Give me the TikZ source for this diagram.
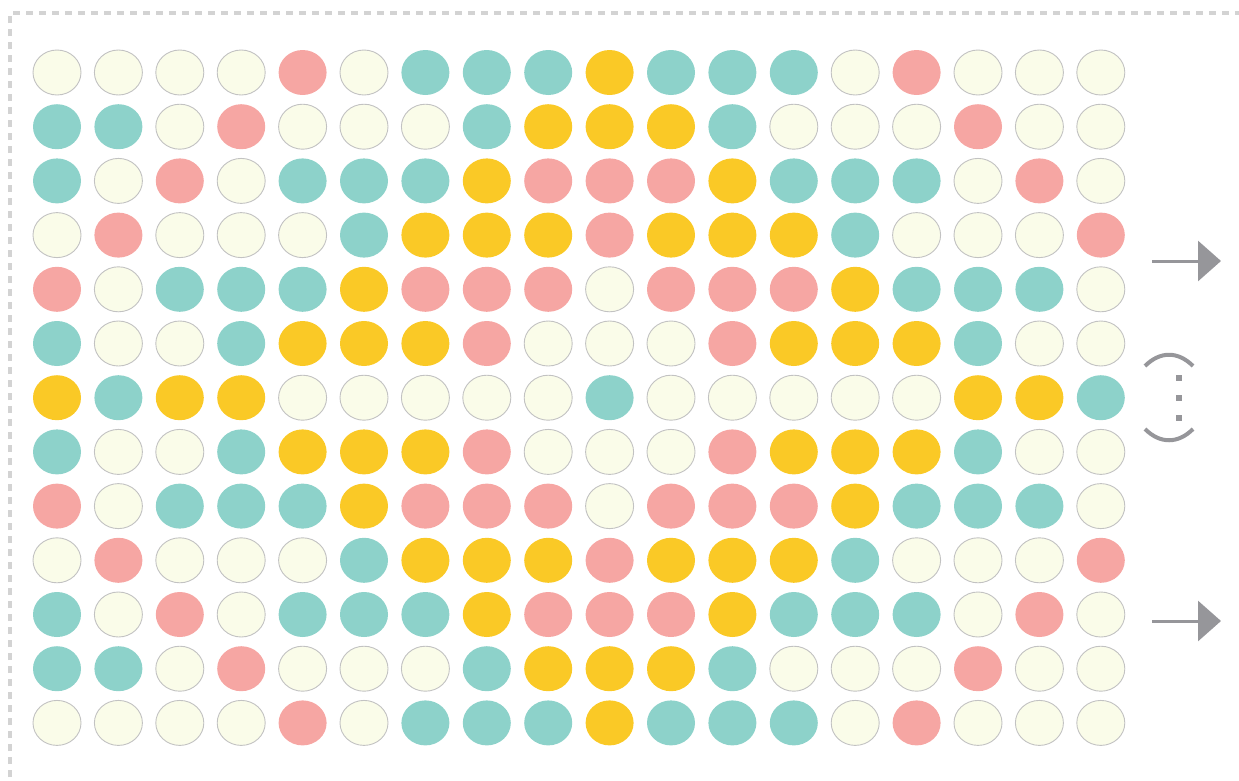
\documentclass[tikz,border=0pt]{standalone}
\usetikzlibrary{shapes.geometric,arrows.meta}
\definecolor{dotC}{HTML}{FAFCE9}
\definecolor{dotT}{HTML}{8DD2CA}
\definecolor{dotP}{HTML}{F6A6A3}
\definecolor{dotY}{HTML}{FAC926}
\definecolor{rimgray}{HTML}{C2C2C2}
\definecolor{framegray}{HTML}{D3D3D3}
\definecolor{arrgray}{HTML}{96969A}
\tikzset{
  dotbase/.style={ellipse, minimum width=48pt, minimum height=45pt, inner sep=0pt},
  dC/.style={dotbase, fill=dotC, draw=rimgray, line width=0.9pt},
  dT/.style={dotbase, fill=dotT},
  dP/.style={dotbase, fill=dotP},
  dY/.style={dotbase, fill=dotY},
  frameline/.style={draw=framegray, line width=3.5pt, dash pattern=on 7pt off 6pt},
  grayarrow/.style={draw=arrgray, line width=3pt, -{Triangle[length=23pt,width=40pt]}},
  bracketline/.style={draw=arrgray, line width=4pt},
  dotsq/.style={rectangle, fill=arrgray, minimum size=5.5pt, inner sep=0pt}
}
\begin{document}
\begin{tikzpicture}[x=1pt,y=-1pt]
\useasboundingbox (0,0) rectangle (1239,780);
\draw[frameline] (10,790) -- (10,13) -- (1250,13);
\foreach \row [count=\r] in {%
{C,C,C,C,P,C,T,T,T,Y,T,T,T,C,P,C,C,C},%
{T,T,C,P,C,C,C,T,Y,Y,Y,T,C,C,C,P,C,C},%
{T,C,P,C,T,T,T,Y,P,P,P,Y,T,T,T,C,P,C},%
{C,P,C,C,C,T,Y,Y,Y,P,Y,Y,Y,T,C,C,C,P},%
{P,C,T,T,T,Y,P,P,P,C,P,P,P,Y,T,T,T,C},%
{T,C,C,T,Y,Y,Y,P,C,C,C,P,Y,Y,Y,T,C,C},%
{Y,T,Y,Y,C,C,C,C,C,T,C,C,C,C,C,Y,Y,T},%
{T,C,C,T,Y,Y,Y,P,C,C,C,P,Y,Y,Y,T,C,C},%
{P,C,T,T,T,Y,P,P,P,C,P,P,P,Y,T,T,T,C},%
{C,P,C,C,C,T,Y,Y,Y,P,Y,Y,Y,T,C,C,C,P},%
{T,C,P,C,T,T,T,Y,P,P,P,Y,T,T,T,C,P,C},%
{T,T,C,P,C,C,C,T,Y,Y,Y,T,C,C,C,P,C,C},%
{C,C,C,C,P,C,T,T,T,Y,T,T,T,C,P,C,C,C}} {
  \foreach \k [count=\c] in \row {
    \node[d\k] (c-\r-\c) at ({57+(\c-1)*61.4},{72.5+(\r-1)*54.2}) {};
  }
}
\coordinate (a1s) at (1152,261);
\coordinate (a1e) at (1221,261);
\coordinate (a2s) at (1152,621);
\coordinate (a2e) at (1221,621);
\draw[grayarrow] (a1s) -- (a1e);
\draw[grayarrow] (a2s) -- (a2e);
\draw[bracketline] (1145,366) .. controls (1160,351) and (1178,351) .. (1193,366);
\draw[bracketline] (1145,429) .. controls (1160,444) and (1178,444) .. (1193,429);
\node[dotsq] (q1) at (1179,378) {};
\node[dotsq] (q2) at (1179,398) {};
\node[dotsq] (q3) at (1179,418) {};
\end{tikzpicture}
\end{document}
